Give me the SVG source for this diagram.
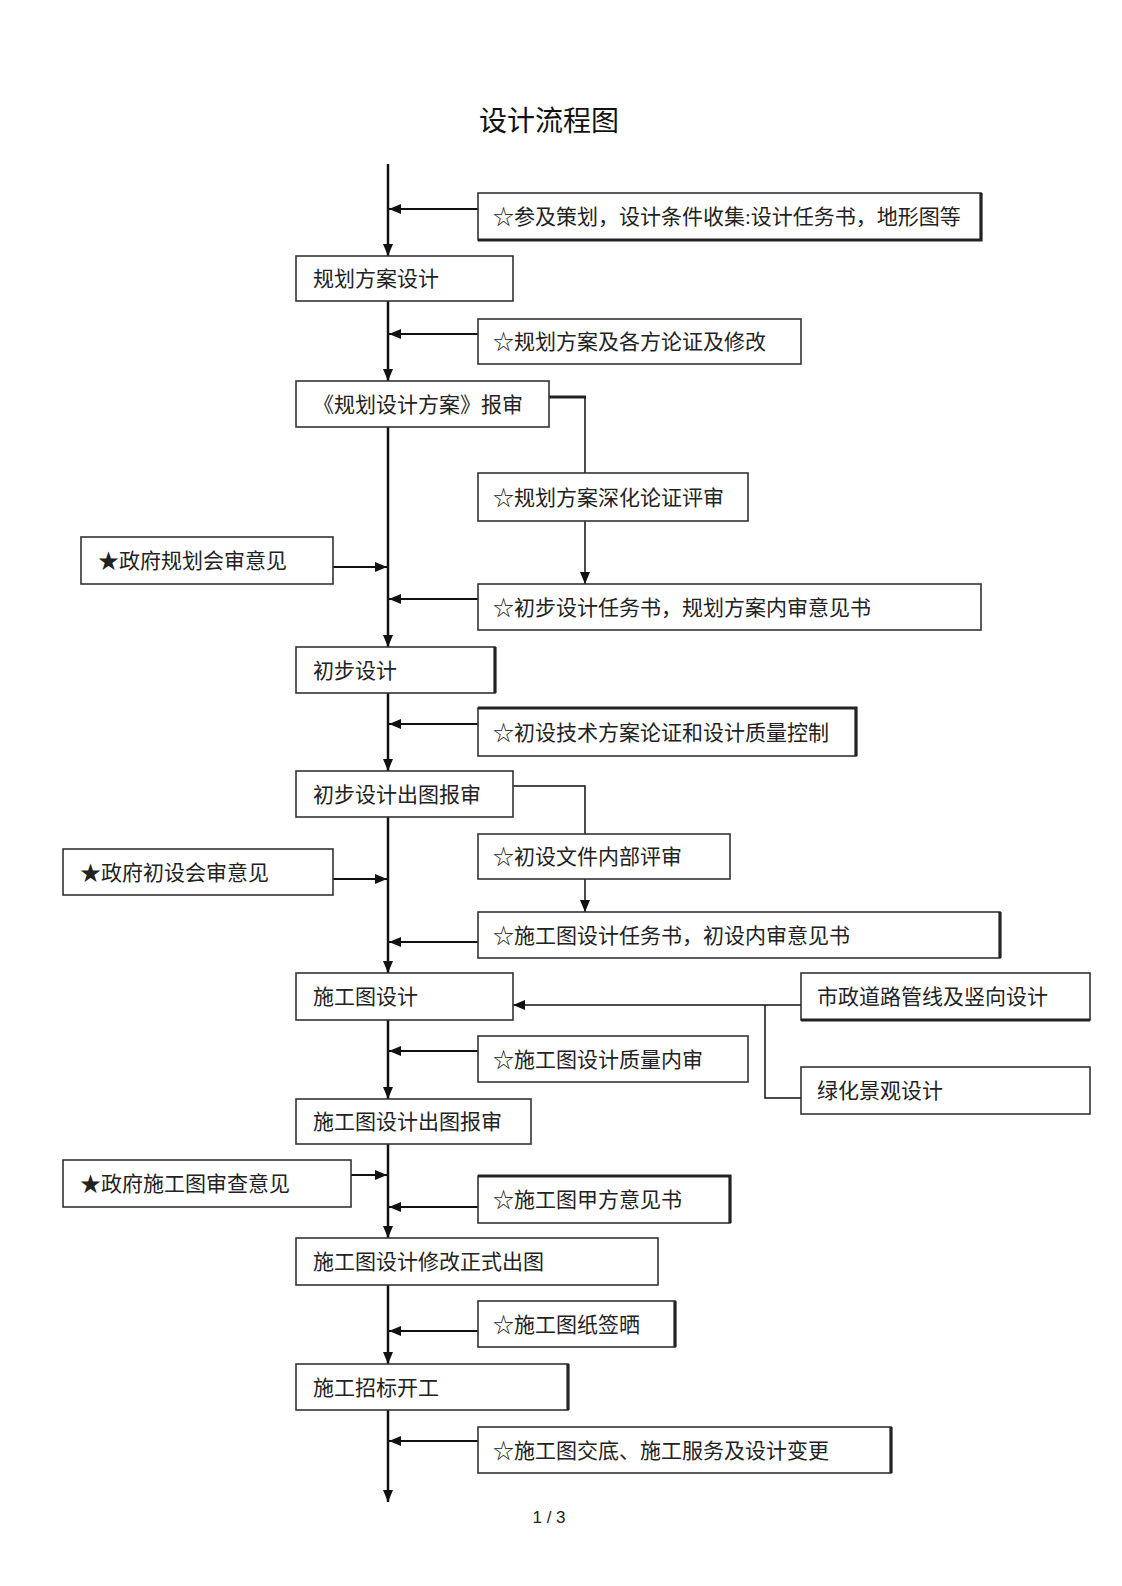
<svg xmlns="http://www.w3.org/2000/svg" width="1122" height="1586" viewBox="0 0 1122 1586">
<style>
.bx{fill:#fff;stroke:#333;stroke-width:1.6}
.thk{stroke:#222;stroke-width:3.2;fill:none}
.t{font-family:"Liberation Serif","Noto Sans CJK SC",serif;font-size:21px;fill:#222}
.ttl{font-family:"Noto Sans CJK SC",sans-serif;font-size:28px;fill:#111}
.pg{font-family:"Liberation Sans",sans-serif;font-size:17px;fill:#222}
.main{stroke:#111;stroke-width:2.5;fill:none}
.side{stroke:#111;stroke-width:2.2;fill:none}
.thin{stroke:#111;stroke-width:1.5;fill:none}
</style>
<defs>
<marker id="ah" viewBox="0 0 12 10" refX="12" refY="5" markerWidth="12" markerHeight="10" markerUnits="userSpaceOnUse" orient="auto">
<path d="M0,0 L12,5 L0,10 z" fill="#111"/>
</marker>
</defs>
<rect width="1122" height="1586" fill="#fff"/>
<text class="ttl" x="549" y="131" text-anchor="middle">设计流程图</text>

<g id="connectors">
<path class="main" d="M388,164 V256" marker-end="url(#ah)"/>
<path class="main" d="M388,301 V381" marker-end="url(#ah)"/>
<path class="main" d="M388,427 V647" marker-end="url(#ah)"/>
<path class="main" d="M388,693 V771" marker-end="url(#ah)"/>
<path class="main" d="M388,817 V973" marker-end="url(#ah)"/>
<path class="main" d="M388,1020 V1099" marker-end="url(#ah)"/>
<path class="main" d="M388,1144 V1238" marker-end="url(#ah)"/>
<path class="main" d="M388,1285 V1364" marker-end="url(#ah)"/>
<path class="main" d="M388,1410 V1502" marker-end="url(#ah)"/>
<path class="side" d="M478,209 H389" marker-end="url(#ah)"/>
<path class="side" d="M478,334 H389" marker-end="url(#ah)"/>
<path class="side" d="M478,599 H389" marker-end="url(#ah)"/>
<path class="side" d="M478,724 H389" marker-end="url(#ah)"/>
<path class="side" d="M478,942 H389" marker-end="url(#ah)"/>
<path class="side" d="M478,1051 H389" marker-end="url(#ah)"/>
<path class="side" d="M478,1207 H389" marker-end="url(#ah)"/>
<path class="side" d="M478,1331 H389" marker-end="url(#ah)"/>
<path class="side" d="M478,1441 H389" marker-end="url(#ah)"/>
<path class="side" d="M333,567 H387" marker-end="url(#ah)"/>
<path class="side" d="M333,879 H387" marker-end="url(#ah)"/>
<path class="side" d="M351,1175 H387" marker-end="url(#ah)"/>
<path class="thin" d="M549,397 H585 V473"/>
<path class="thk" d="M549,397 H586"/>
<path class="thin" d="M585,521 V584" marker-end="url(#ah)"/>
<path class="thin" d="M513,786 H585 V834"/>
<path class="thin" d="M585,879 V912" marker-end="url(#ah)"/>
<path class="thin" d="M801,1005 H513" marker-end="url(#ah)"/>
<path class="thin" d="M765,1005 V1098 H801"/>
</g>

<g id="b1"><rect class="bx" x="478" y="193" width="503" height="47"/><path class="thk" d="M478,240 H981 V193"/><text class="t" x="493" y="224">☆参及策划，设计条件收集:设计任务书，地形图等</text></g>
<g id="n1"><rect class="bx" x="296" y="256" width="217" height="45"/><text class="t" x="313" y="286">规划方案设计</text></g>
<g id="b2"><rect class="bx" x="478" y="319" width="323" height="45"/><text class="t" x="493" y="349">☆规划方案及各方论证及修改</text></g>
<g id="n2"><rect class="bx" x="296" y="381" width="253" height="46"/><text class="t" x="313" y="411.5">《规划设计方案》报审</text></g>
<g id="b3"><rect class="bx" x="478" y="473" width="270" height="48"/><text class="t" x="493" y="504.5">☆规划方案深化论证评审</text></g>
<g id="b4"><rect class="bx" x="478" y="584" width="503" height="46"/><text class="t" x="493" y="614.5">☆初步设计任务书，规划方案内审意见书</text></g>
<g id="g1"><rect class="bx" x="81" y="537" width="252" height="47"/><text class="t" x="98" y="568">★政府规划会审意见</text></g>
<g id="n3"><rect class="bx" x="296" y="647" width="199" height="46"/><path class="thk" d="M495,647 V693"/><text class="t" x="313" y="677.5">初步设计</text></g>
<g id="b5"><rect class="bx" x="478" y="708" width="378" height="48"/><path class="thk" d="M478,708 H856 V756"/><text class="t" x="493" y="739.5">☆初设技术方案论证和设计质量控制</text></g>
<g id="n4"><rect class="bx" x="296" y="771" width="217" height="46"/><text class="t" x="313" y="801.5">初步设计出图报审</text></g>
<g id="b6"><rect class="bx" x="478" y="834" width="252" height="45"/><text class="t" x="493" y="864">☆初设文件内部评审</text></g>
<g id="b7"><rect class="bx" x="478" y="912" width="522" height="46"/><path class="thk" d="M1000,912 V958"/><text class="t" x="493" y="942.5">☆施工图设计任务书，初设内审意见书</text></g>
<g id="g2"><rect class="bx" x="63" y="849" width="270" height="46"/><text class="t" x="80" y="879.5">★政府初设会审意见</text></g>
<g id="n5"><rect class="bx" x="296" y="973" width="217" height="47"/><text class="t" x="313" y="1004">施工图设计</text></g>
<g id="r1"><rect class="bx" x="801" y="973" width="289" height="47"/><path class="thk" d="M801,1020 H1090"/><text class="t" x="817" y="1004">市政道路管线及竖向设计</text></g>
<g id="r2"><rect class="bx" x="801" y="1067" width="289" height="47"/><text class="t" x="817" y="1098">绿化景观设计</text></g>
<g id="b8"><rect class="bx" x="478" y="1036" width="270" height="46"/><text class="t" x="493" y="1066.5">☆施工图设计质量内审</text></g>
<g id="n6"><rect class="bx" x="296" y="1099" width="235" height="45"/><text class="t" x="313" y="1129">施工图设计出图报审</text></g>
<g id="g3"><rect class="bx" x="63" y="1160" width="288" height="47"/><text class="t" x="80" y="1191">★政府施工图审查意见</text></g>
<g id="b9"><rect class="bx" x="478" y="1176" width="252" height="47"/><path class="thk" d="M478,1176 H730 V1223"/><text class="t" x="493" y="1207">☆施工图甲方意见书</text></g>
<g id="n7"><rect class="bx" x="296" y="1238" width="362" height="47"/><text class="t" x="313" y="1269">施工图设计修改正式出图</text></g>
<g id="b10"><rect class="bx" x="478" y="1301" width="197" height="46"/><path class="thk" d="M675,1301 V1347"/><text class="t" x="493" y="1331.5">☆施工图纸签晒</text></g>
<g id="n8"><rect class="bx" x="296" y="1364" width="272" height="46"/><path class="thk" d="M568,1364 V1410"/><text class="t" x="313" y="1394.5">施工招标开工</text></g>
<g id="b11"><rect class="bx" x="478" y="1427" width="413" height="46"/><path class="thk" d="M891,1427 V1473"/><text class="t" x="493" y="1457.5">☆施工图交底、施工服务及设计变更</text></g>

<text class="pg" x="549" y="1523" text-anchor="middle">1 / 3</text>
</svg>
